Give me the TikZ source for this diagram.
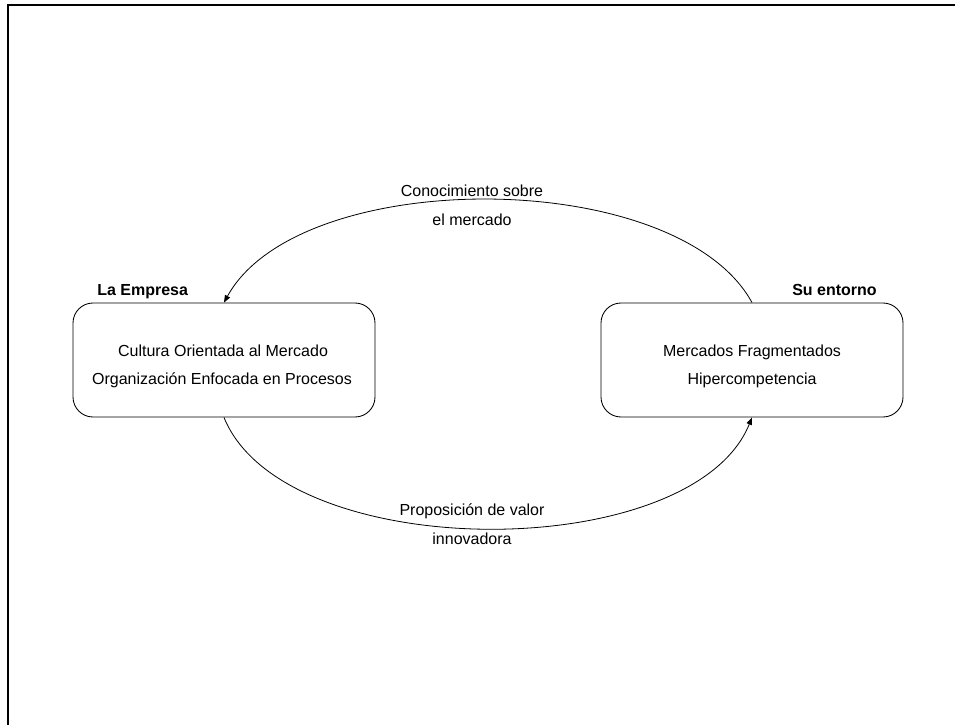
\documentclass[tikz,border=0pt]{standalone}
\usepackage{fontspec}
\setmainfont{Liberation Sans}
\usetikzlibrary{arrows.meta,calc}

\begin{document}
\begin{tikzpicture}[x=0.75pt,y=-0.75pt,
  panel/.style={draw=black, line width=0.65pt, rounded corners=15pt,
    minimum width=226.5pt, minimum height=85.5pt, inner sep=0pt},
  bodytext/.style={font=\fontsize{12}{14}\selectfont, inner sep=0pt, anchor=base},
  heading/.style={font=\fontsize{12}{14}\selectfont\bfseries, inner sep=0pt},
  flow/.style={draw=black, line width=0.6pt, -{Triangle[length=5.5pt,width=4.2pt]}}
]
\useasboundingbox (0,0) rectangle (955,724);

% outer frame (open at right and bottom)
\draw[line width=1.5pt] (8,730) -- (8,5) -- (960,5);

% the two blocks
\node[panel] (emp) at (224,360) {};
\node[panel] (ent) at (752,360) {};

% block contents
\node[bodytext] (empA) at (223,356) {Cultura Orientada al Mercado};
\node[bodytext] (empB) at (222,384) {Organización Enfocada en Procesos};
\node[bodytext] (entA) at (752,356) {Mercados Fragmentados};
\node[bodytext] (entB) at (752,384) {Hipercompetencia};

% block titles
\node[heading, anchor=base west] (lblEmp) at (97,295) {La Empresa};
\node[heading, anchor=base east] (lblEnt) at (877,295) {Su entorno};

% flows between the blocks
\draw[flow] (ent.north) .. controls ($(ent.north)+(-75,-137)$) and ($(emp.north)+(75,-137)$) .. (emp.north);
\draw[flow] (emp.south) .. controls ($(emp.south)+(60,148)$) and ($(ent.south)+(-60,148)$) .. (ent.south);

% flow labels
\node[bodytext] (topA) at (472,196) {Conocimiento sobre};
\node[bodytext] (topB) at (472,225) {el mercado};
\node[bodytext] (botA) at (472,515) {Proposición de valor};
\node[bodytext] (botB) at (472,544) {innovadora};
\end{tikzpicture}
\end{document}
